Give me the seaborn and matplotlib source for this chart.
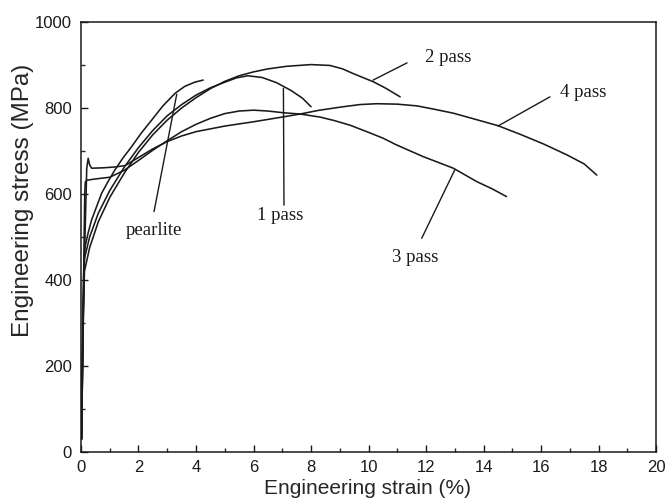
import matplotlib
matplotlib.use("Agg")
import matplotlib.pyplot as plt
import seaborn as sns
import pandas as pd
from matplotlib.ticker import MultipleLocator

# stress-strain curves (strain %, stress MPa)
pearlite_x = [0.02, 0.06, 0.1, 0.14, 0.25, 0.37, 0.55, 0.72, 0.95, 1.18, 1.45, 1.76, 2.1, 2.46, 2.85, 3.27, 3.6, 3.95, 4.25]
pearlite_y = [30, 300, 430, 477, 510, 540, 572, 602, 630, 656, 683, 710, 742, 772, 805, 834, 850, 860, 865]

pass1_x = [0.02, 0.07, 0.12, 0.3, 0.6, 1.0, 1.5, 2.0, 2.5, 3.0, 3.5, 4.0, 4.5, 5.0, 5.4, 5.8, 6.3, 6.8, 7.3, 7.7, 8.0]
pass1_y = [30, 300, 450, 500, 555, 608, 662, 708, 748, 782, 808, 830, 847, 860, 870, 875, 871, 859, 841, 823, 803]

pass2_x = [0.02, 0.07, 0.12, 0.3, 0.6, 1.0, 1.5, 2.0, 2.5, 3.0, 3.5, 4.0, 4.5, 5.0, 5.5, 6.0, 6.5, 7.15, 8.0, 8.66, 9.1, 9.47, 10.17, 10.6, 11.1]
pass2_y = [30, 280, 420, 475, 535, 592, 648, 697, 738, 772, 800, 824, 845, 862, 875, 884, 891, 897, 901, 899, 891, 880, 861, 846, 826]

pass3_x = [0.02, 0.08, 0.13, 0.15, 0.2, 0.5, 1.0, 1.5, 2.0, 2.5, 3.0, 3.5, 4.0, 4.5, 5.0, 5.5, 6.0, 6.5, 7.04, 7.62, 8.31, 8.8, 9.36, 9.94, 10.5, 10.98, 11.9, 12.95, 13.76, 14.3, 14.8]
pass3_y = [30, 350, 600, 628, 632, 635, 639, 655, 678, 702, 724, 745, 762, 776, 787, 793, 795, 793, 789, 786, 779, 771, 760, 745, 730, 714, 687, 660, 629, 612, 594]

pass4_x = [0.02, 0.1, 0.2, 0.25, 0.3, 0.37, 0.8, 1.2, 1.53, 2.0, 2.5, 3.0, 3.5, 4.0, 5.0, 6.0, 7.0, 7.62, 8.3, 9.12, 9.7, 10.28, 11.0, 11.68, 12.3, 12.95, 13.7, 14.5, 15.27, 16.1, 16.9, 17.5, 17.94]
pass4_y = [30, 400, 660, 683, 668, 660, 661, 663, 666, 685, 705, 722, 735, 745, 758, 768, 779, 786, 795, 803, 808, 810, 809, 805, 797, 788, 774, 759, 739, 716, 691, 670, 644]

curve_names = ['pearlite', '1 pass', '2 pass', '3 pass', '4 pass']
curve_xs = [pearlite_x, pass1_x, pass2_x, pass3_x, pass4_x]
curve_ys = [pearlite_y, pass1_y, pass2_y, pass3_y, pass4_y]

# label text position and leader line (from curve to text)
label_text_xy = [(2.54, 514), (6.92, 549), (11.97, 918), (11.62, 453), (16.66, 835)]
leader_from = [(3.33, 832), (7.04, 846), (10.16, 865), (13.0, 656), (14.5, 758)]
leader_to = [(2.54, 559), (7.06, 574), (11.34, 905), (11.85, 497), (16.31, 826)]

rows = []
for name, xs, ys in zip(curve_names, curve_xs, curve_ys):
    for x, y in zip(xs, ys):
        rows.append({'curve': name, 'strain': x, 'stress': y})
df = pd.DataFrame(rows)

sns.set_style("ticks")
plt.rcParams['font.family'] = ['Liberation Sans', 'DejaVu Sans']
plt.rcParams['xtick.direction'] = 'in'
plt.rcParams['ytick.direction'] = 'in'

fig = plt.figure(figsize=(6.71, 5.04), dpi=100)
ax = fig.add_axes([0.1207, 0.1032, 0.857, 0.8531])

sns.lineplot(data=df, x='strain', y='stress', hue='curve', units='curve',
             estimator=None, sort=False, palette=['#1a1a1a'] * 5,
             linewidth=1.15, legend=False, ax=ax)

for (fx, fy), (tx, ty) in zip(leader_from, leader_to):
    ax.plot([fx, tx], [fy, ty], color='#1a1a1a', linewidth=1.0)

for name, (tx, ty) in zip(curve_names, label_text_xy):
    ha = 'left' if name in ('2 pass', '4 pass') else 'center'
    ax.text(tx, ty, name, ha=ha, va='center', fontsize=13.5,
            family=['Liberation Serif', 'DejaVu Serif'], color='#1a1a1a')

ax.set_xlim(0, 20)
ax.set_ylim(0, 1000)
ax.xaxis.set_major_locator(MultipleLocator(2))
ax.xaxis.set_minor_locator(MultipleLocator(1))
ax.yaxis.set_major_locator(MultipleLocator(200))
ax.yaxis.set_minor_locator(MultipleLocator(100))
ax.tick_params(which='major', length=5, width=1, labelsize=12, colors='#1a1a1a')
ax.tick_params(axis='y', which='major', pad=6.5)
ax.tick_params(axis='x', which='major', pad=6)
ax.tick_params(which='minor', length=3, width=1)
ax.tick_params(top=False, right=False, which='both')
for s in ax.spines.values():
    s.set_linewidth(1.1)
    s.set_color('#1a1a1a')

ax.set_xlabel('Engineering strain (%)', fontsize=15)
ax.set_ylabel('Engineering stress (MPa)', fontsize=17.5)
ax.xaxis.set_label_coords(0.498, -0.063)
ax.yaxis.set_label_coords(-0.082, 0.586)

fig.savefig('out.png', dpi=100)
